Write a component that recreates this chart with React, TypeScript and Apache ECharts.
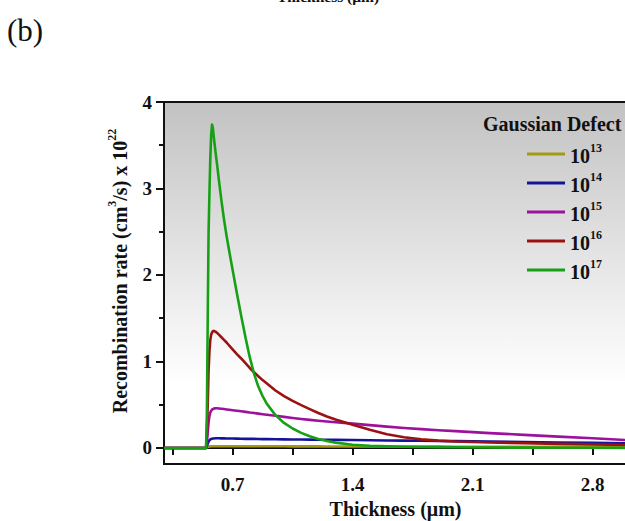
import React, { useEffect, useRef } from "react";
import * as echarts from "echarts";

const FONT = "Liberation Serif";

// Thickness (µm) sample positions shared by all series
const thickness = [0.3, 0.545, 0.55, 0.555, 0.56, 0.565, 0.57, 0.575, 0.58, 0.585, 0.59, 0.6, 0.61, 0.62, 0.635, 0.65, 0.665, 0.68, 0.7, 0.725, 0.75, 0.775, 0.8, 0.825, 0.85, 0.875, 0.9, 0.95, 1.0, 1.05, 1.1, 1.15, 1.2, 1.25, 1.3, 1.4, 1.5, 1.6, 1.7, 1.8, 1.9, 2.0, 2.2, 2.4, 2.6, 2.8, 3.0];

// Recombination rate (x 10^22) for each Gaussian defect density
const defect13 = [0, 0, 0.006, 0.012, 0.016, 0.018, 0.019, 0.02, 0.02, 0.02, 0.02, 0.02, 0.02, 0.02, 0.02, 0.02, 0.02, 0.02, 0.02, 0.02, 0.02, 0.02, 0.02, 0.02, 0.02, 0.02, 0.02, 0.02, 0.02, 0.019, 0.019, 0.019, 0.019, 0.018, 0.018, 0.018, 0.017, 0.017, 0.016, 0.016, 0.016, 0.015, 0.015, 0.014, 0.013, 0.013, 0.012];
const defect14 = [0, 0, 0.02, 0.05, 0.075, 0.09, 0.099, 0.104, 0.107, 0.109, 0.11, 0.112, 0.112, 0.112, 0.111, 0.111, 0.11, 0.11, 0.109, 0.108, 0.107, 0.106, 0.105, 0.105, 0.104, 0.103, 0.102, 0.101, 0.1, 0.099, 0.098, 0.097, 0.096, 0.095, 0.094, 0.092, 0.089, 0.087, 0.085, 0.083, 0.081, 0.079, 0.074, 0.069, 0.064, 0.059, 0.054];
const defect15 = [0, 0, 0.06, 0.18, 0.3, 0.37, 0.41, 0.43, 0.443, 0.45, 0.455, 0.459, 0.459, 0.457, 0.454, 0.45, 0.446, 0.442, 0.437, 0.431, 0.425, 0.418, 0.41, 0.404, 0.397, 0.391, 0.385, 0.372, 0.36, 0.347, 0.335, 0.325, 0.315, 0.306, 0.298, 0.282, 0.264, 0.247, 0.232, 0.218, 0.206, 0.195, 0.172, 0.152, 0.132, 0.112, 0.092];
const defect16 = [0, 0, 0.15, 0.5, 0.9, 1.12, 1.25, 1.31, 1.335, 1.35, 1.355, 1.345, 1.33, 1.31, 1.28, 1.25, 1.22, 1.185, 1.14, 1.085, 1.035, 0.98, 0.925, 0.875, 0.83, 0.785, 0.745, 0.665, 0.6, 0.545, 0.495, 0.45, 0.405, 0.365, 0.33, 0.27, 0.21, 0.16, 0.125, 0.1, 0.085, 0.075, 0.064, 0.055, 0.048, 0.042, 0.035];
const defect17 = [0, 0, 0.4, 1.5, 2.5, 2.95, 3.35, 3.62, 3.74, 3.7, 3.6, 3.43, 3.27, 3.1, 2.86, 2.64, 2.45, 2.28, 2.06, 1.79, 1.53, 1.28, 1.05, 0.86, 0.71, 0.6, 0.51, 0.38, 0.29, 0.225, 0.175, 0.135, 0.105, 0.08, 0.062, 0.038, 0.026, 0.02, 0.015, 0.012, 0.01, 0.008, 0.005, 0.004, 0.003, 0.002, 0.001];

const seriesNames = ["10^13", "10^14", "10^15", "10^16", "10^17"];
const seriesValues = [defect13, defect14, defect15, defect16, defect17];
const seriesColors = ["#a29a14", "#14149a", "#9c129c", "#9c1212", "#16a016"];

const xTickValues = [0.35, 0.7, 1.05, 1.4, 1.75, 2.1, 2.45, 2.8];
const xLabelValues = [0.7, 1.4, 2.1, 2.8];
const yMajorValues = [0, 1, 2, 3, 4];
const yMinorValues = [0.5, 1.5, 2.5, 3.5];

export default function App() {
  const ref = useRef<HTMLDivElement>(null);

  useEffect(() => {
    if (!ref.current) return;
    const chart = echarts.init(ref.current, null, { renderer: "svg" });
    const boldText = { fontFamily: FONT, fontWeight: "bold" as const, color: "#111" };

    chart.setOption({
      animation: false,
      backgroundColor: "#ffffff",
      grid: {
        left: 164,
        top: 102,
        right: -2,
        bottom: 57,
        containLabel: false,
        outerBoundsMode: "none",
        show: true,
        borderColor: "#111",
        borderWidth: 2,
        backgroundColor: {
          type: "linear",
          x: 0, y: 0, x2: 0, y2: 1,
          colorStops: [
            { offset: 0, color: "#c2c2c2" },
            { offset: 0.45, color: "#e6e6e6" },
            { offset: 0.78, color: "#ffffff" },
            { offset: 1, color: "#ffffff" },
          ],
        },
      },
      xAxis: {
        type: "value",
        min: 0.3,
        max: 3.0,
        name: "Thickness (\u03bcm)",
        nameLocation: "middle",
        nameGap: 35,
        nameTextStyle: { ...boldText, fontSize: 20 },
        axisLine: { show: true, lineStyle: { color: "#111", width: 2 } },
        axisTick: { show: true, length: 7, lineStyle: { color: "#111", width: 2 }, customValues: xTickValues },
        axisLabel: { ...boldText, fontSize: 19, margin: 11, customValues: xLabelValues, formatter: (v: number) => String(v) },
        splitLine: { show: false },
      },
      yAxis: [
        {
          type: "value",
          min: -0.185,
          max: 4,
          axisLine: { show: true, lineStyle: { color: "#111", width: 2 } },
          axisTick: { show: true, length: 8, lineStyle: { color: "#111", width: 2 }, customValues: yMajorValues },
          axisLabel: { ...boldText, fontSize: 19, margin: 12, customValues: yMajorValues },
          splitLine: { show: false },
        },
        {
          type: "value",
          min: -0.185,
          max: 4,
          position: "left",
          axisLine: { show: false },
          axisTick: { show: true, length: 5, lineStyle: { color: "#111", width: 2 }, customValues: yMinorValues },
          axisLabel: { show: false },
          splitLine: { show: false },
        },
      ],
      legend: {
        data: seriesNames,
        orient: "vertical",
        left: 527,
        top: 142,
        padding: 0,
        itemGap: 5,
        itemWidth: 38,
        itemHeight: 3,
        icon: "rect",
        selectedMode: false,
        formatter: (name: string) => `{b|10}{s|${name.split("^")[1]}}`,
        textStyle: {
          lineHeight: 24,
          rich: {
            b: { ...boldText, fontSize: 20, lineHeight: 24, verticalAlign: "bottom" },
            s: { ...boldText, fontSize: 12, lineHeight: 12, verticalAlign: "top" },
          },
        },
      },
      graphic: [
        {
          type: "text",
          x: 7,
          y: 30,
          style: { text: "(b)", fontFamily: FONT, fontSize: 31, fill: "#111", verticalAlign: "middle" },
        },
        {
          type: "text",
          x: 328,
          y: -4,
          style: { text: "Thickness (\u03bcm)", fontFamily: FONT, fontWeight: "bold", fontSize: 15.5, fill: "#111", align: "center", verticalAlign: "middle" },
        },
        {
          type: "text",
          x: 483,
          y: 124,
          style: { text: "Gaussian Defect", fontFamily: FONT, fontWeight: "bold", fontSize: 20, fill: "#111", verticalAlign: "middle" },
        },
        {
          type: "text",
          x: 118,
          y: 271,
          rotation: Math.PI / 2,
          style: {
            text: "{b|Recombination rate (cm}{s|3}{b|/s) x 10}{s|22}",
            align: "center",
            verticalAlign: "middle",
            rich: {
              b: { fontFamily: FONT, fontWeight: "bold", fontSize: 20, lineHeight: 24, verticalAlign: "bottom", fill: "#111" },
              s: { fontFamily: FONT, fontWeight: "bold", fontSize: 12, lineHeight: 12, verticalAlign: "top", fill: "#111" },
            },
          },
        },
      ],
      series: seriesNames.map((name, i) => ({
        name,
        type: "line",
        data: thickness.map((x, j) => [x, seriesValues[i][j]]),
        showSymbol: false,
        symbol: "none",
        smooth: false,
        color: seriesColors[i],
        lineStyle: { color: seriesColors[i], width: 2.6, join: "round" },
        z: 2 + i,
      })),
    });

    return () => chart.dispose();
  }, []);

  return <div ref={ref} style={{ position: "fixed", left: 0, top: 0, width: 625, height: 521 }} />;
}
